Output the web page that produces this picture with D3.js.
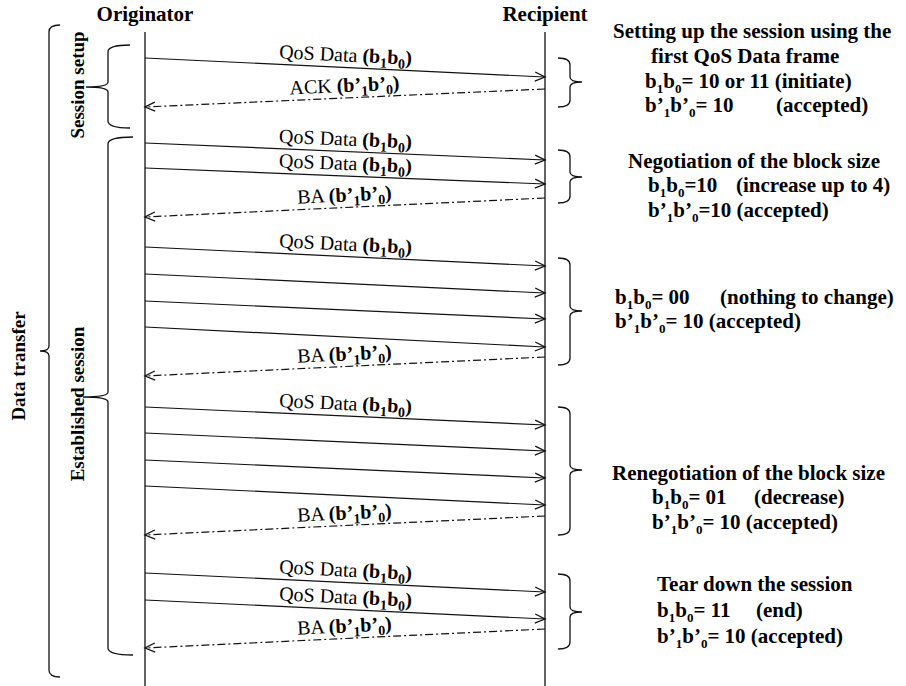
<!DOCTYPE html>
<html>
<head>
<meta charset="utf-8">
<script src="https://cdn.jsdelivr.net/npm/d3@7"></script>
<style>
  body { margin: 0; background: #fff; }
  svg text { font-family: "Liberation Serif", "Times New Roman", serif; fill: #000; }
</style>
</head>
<body>
<div id="chart"></div>
<script>
var participants = ["Originator", "Recipient"];
var msgFrom  = ["Originator", "Recipient", "Originator", "Originator", "Recipient",
                "Originator", "Originator", "Originator", "Originator", "Recipient",
                "Originator", "Originator", "Originator", "Originator", "Recipient",
                "Originator", "Originator", "Recipient"];
var msgSend  = [58, 89, 143, 168, 198, 247, 274, 301, 327, 357, 407, 433, 460, 486, 516, 573, 600, 629];
var msgRecv  = [77, 107, 160, 184, 217, 266, 293, 319, 347, 376, 425, 451, 478, 505, 535, 592, 619, 648];
var msgLabel = ["QoS Data *(b_1b_0)*", "ACK *(b’_1b’_0)*",
                "QoS Data *(b_1b_0)*", "QoS Data *(b_1b_0)*", "BA *(b’_1b’_0)*",
                "QoS Data *(b_1b_0)*", "", "", "", "BA *(b’_1b’_0)*",
                "QoS Data *(b_1b_0)*", "", "", "", "BA *(b’_1b’_0)*",
                "QoS Data *(b_1b_0)*", "QoS Data *(b_1b_0)*", "BA *(b’_1b’_0)*"];

// phases on the left
var phaseName  = ["Data transfer", "Session setup", "Established session"];
var phaseLevel = [0, 1, 1];
var phaseStart = [25, 45, 137];
var phaseEnd   = [677, 128, 655];
var phaseMid   = [351, 87, 397];

// steps on the right
var stepStart = [58, 150, 258, 407, 574];
var stepEnd   = [107, 203, 365, 535, 649];
var stepMid   = [82, 177, 311, 470, 612];
var stepNotes = [
  ["Setting up the session using the", "first QoS Data frame",
   "b_1b_0= 10 or 11 (initiate)", "b’_1b’_0= 10\t(accepted)"],
  ["Negotiation of the block size", "b_1b_0=10\t(increase up to 4)", "b’_1b’_0=10 (accepted)"],
  ["b_1b_0= 00\t(nothing to change)", "b’_1b’_0= 10 (accepted)"],
  ["Renegotiation of the block size", "b_1b_0= 01\t(decrease)", "b’_1b’_0= 10 (accepted)"],
  ["Tear down the session", "b_1b_0= 11\t(end)", "b’_1b’_0= 10 (accepted)"]
];

// layout
var W = 906, H = 686;
var noteX   = [[613, 651, 645, 645], [628, 648, 648], [615, 615], [612, 652, 652], [657, 657, 657]];
var noteTab = [[0, 0, 0, 776], [0, 736, 0], [720, 0], [0, 754, 0], [0, 756, 0]];
var noteY   = [[38, 63, 88, 112], [168, 192, 217], [304, 328], [480, 504, 529], [591, 617, 643]];
var levelGeo = [{x0: 60, x1: 49, xt: 40, lx: 25},
                {x0: 130, x1: 108, xt: 86, lx: 84}];
var phaseLabelY = [366, 85, 404];

var svg = d3.select("#chart").append("svg")
    .attr("width", W).attr("height", H);

var x = d3.scalePoint().domain(participants).range([145, 545]);
var y = d3.scaleLinear().domain([0, H]).range([0, H]);

var defs = svg.append("defs");
defs.append("marker")
    .attr("id", "head")
    .attr("markerUnits", "userSpaceOnUse")
    .attr("viewBox", "-12 -7 14 14")
    .attr("markerWidth", 14).attr("markerHeight", 14)
    .attr("refX", 0).attr("refY", 0)
    .attr("orient", "auto")
  .append("path")
    .attr("d", "M-10,-4.5L0,0L-10,4.5")
    .style("fill", "none")
    .style("stroke", "#111")
    .style("stroke-width", 1.3);

// write a string with *bold* and _subscript into a text element
function rich(text, str, fs, bold, tab, subScale) {
  var segs = [], cur = "", sub = false;
  function push() { if (cur.length) segs.push({t: cur, b: bold, s: sub, tab: false}); cur = ""; }
  for (var i = 0; i < str.length; i++) {
    var c = str[i];
    if (c === "*") { push(); bold = !bold; }
    else if (c === "_") { push(); sub = true; cur = str[++i]; push(); sub = false; }
    else if (c === "\t") { push(); segs.push({tab: true}); }
    else cur += c;
  }
  push();
  var shift = 0, nextX = null;
  segs.forEach(function(s) {
    if (s.tab) { nextX = tab; return; }
    var ts = text.append("tspan").text(s.t)
        .style("font-weight", s.b ? "bold" : "normal");
    var target = s.s ? fs * 0.22 : 0;
    if (target !== shift) { ts.attr("dy", target - shift); shift = target; }
    if (s.s) ts.style("font-size", (fs * subScale) + "px");
    if (nextX !== null) { ts.attr("x", nextX); nextX = null; }
  });
}

function brace(x0, x1, xt, y0, ym, y1) {
  var r = 7;
  return "M" + x0 + "," + y0 +
    "Q" + x1 + "," + y0 + " " + x1 + "," + (y0 + r) +
    "L" + x1 + "," + (ym - 5) +
    "Q" + x1 + "," + ym + " " + xt + "," + ym +
    "M" + xt + "," + ym +
    "Q" + x1 + "," + ym + " " + x1 + "," + (ym + 5) +
    "L" + x1 + "," + (y1 - r) +
    "Q" + x1 + "," + y1 + " " + x0 + "," + y1;
}

// headers and lifelines
svg.selectAll(".head").data(participants).enter()
  .append("text")
    .attr("class", "head")
    .attr("x", function(d) { return x(d); })
    .attr("y", 21)
    .attr("text-anchor", "middle")
    .style("font-size", "21px")
    .style("font-weight", "bold")
    .text(function(d) { return d; });

svg.selectAll(".life").data(participants).enter()
  .append("line")
    .attr("class", "life")
    .attr("x1", function(d) { return x(d); })
    .attr("x2", function(d) { return x(d); })
    .attr("y1", 32).attr("y2", H)
    .style("stroke", "#222")
    .style("stroke-width", 1.4);

// messages
var msgs = msgSend.map(function(s, i) {
  var to = msgFrom[i] === participants[0] ? participants[1] : participants[0];
  return {from: msgFrom[i], to: to, t0: s, t1: msgRecv[i], label: msgLabel[i],
          ack: msgFrom[i] === participants[1]};
});

svg.selectAll(".msg").data(msgs).enter()
  .append("line")
    .attr("class", "msg")
    .attr("x1", function(d) { return x(d.from); })
    .attr("y1", function(d) { return y(d.t0); })
    .attr("x2", function(d) { return x(d.to); })
    .attr("y2", function(d) { return y(d.t1); })
    .attr("marker-end", "url(#head)")
    .style("stroke", "#111")
    .style("stroke-width", 1.2)
    .style("stroke-dasharray", function(d) { return d.ack ? "8,3,2,3" : null; });

svg.selectAll(".lab").data(msgs.filter(function(d) { return d.label; })).enter()
  .append("text")
    .attr("class", "lab")
    .attr("text-anchor", "middle")
    .style("font-size", "20px")
    .attr("transform", function(d) {
      var xa = x(participants[0]), xb = x(participants[1]);
      var ya = d.ack ? y(d.t1) : y(d.t0), yb = d.ack ? y(d.t0) : y(d.t1);
      var ang = Math.atan2(yb - ya, xb - xa) * 180 / Math.PI;
      return "translate(" + (xa + xb) / 2 + "," + (ya + yb) / 2 + ") rotate(" + ang + ") translate(0,-6)";
    })
    .each(function(d) { rich(d3.select(this), d.label, 20, false, 0, 0.7); });

// left phase braces
phaseName.forEach(function(name, i) {
  var g = levelGeo[phaseLevel[i]];
  var x0 = (i === 2) ? g.x0 + 3 : g.x0;
  var xt = (i === 2) ? g.xt - 3 : g.xt;
  svg.append("path")
      .attr("d", brace(x0, g.x1, xt, y(phaseStart[i]), y(phaseMid[i]), y(phaseEnd[i])))
      .style("fill", "none")
      .style("stroke", "#111")
      .style("stroke-width", 1.3);
  svg.append("text")
      .attr("transform", "translate(" + g.lx + "," + phaseLabelY[i] + ") rotate(-90)")
      .attr("text-anchor", "middle")
      .style("font-size", "19px")
      .style("font-weight", "bold")
      .text(name);
});

// right step braces and notes
stepStart.forEach(function(s, i) {
  svg.append("path")
      .attr("d", brace(558, 570, 582, y(s), y(stepMid[i]), y(stepEnd[i])))
      .style("fill", "none")
      .style("stroke", "#111")
      .style("stroke-width", 1.3);
  stepNotes[i].forEach(function(line, j) {
    var t = svg.append("text")
        .attr("x", noteX[i][j])
        .attr("y", noteY[i][j])
        .style("font-size", "21px")
        .style("font-weight", "bold");
    rich(t, line, 21, true, noteTab[i][j], 0.62);
  });
});
</script>
</body>
</html>
